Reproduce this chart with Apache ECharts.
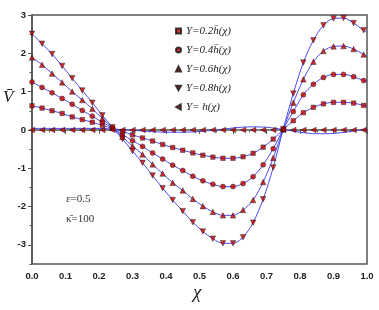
<!DOCTYPE html>
<html>
<head>
<meta charset="utf-8">
<script src="https://cdn.jsdelivr.net/npm/echarts@6/dist/echarts.min.js"></script>
<style>
  html, body { margin: 0; padding: 0; background: #fff; }
  #chart { width: 379px; height: 310px; }
</style>
</head>
<body>
<div id="chart"></div>
<script>
  // chi positions of the markers (every 0.03) plus the line end at 1.0
  let chi = [0, 0.03, 0.06, 0.09, 0.12, 0.15, 0.18, 0.21, 0.24, 0.27, 0.30, 0.33, 0.36, 0.39, 0.42, 0.45, 0.48,
    0.51, 0.54, 0.57, 0.60, 0.63, 0.66, 0.69, 0.72, 0.75, 0.78, 0.81, 0.84, 0.87, 0.90, 0.93, 0.96, 0.99, 1.0]

  let v02 = [0.63, 0.57, 0.50, 0.43, 0.34, 0.27, 0.20, 0.12, 0.04, -0.04, -0.13, -0.21, -0.29, -0.38, -0.46, -0.53, -0.60,
    -0.66, -0.71, -0.74, -0.74, -0.70, -0.61, -0.45, -0.24, 0.01, 0.24, 0.45, 0.59, 0.68, 0.72, 0.72, 0.70, 0.64, 0.63]
  let v04 = [1.25, 1.11, 0.97, 0.82, 0.67, 0.51, 0.36, 0.20, 0.05, -0.12, -0.28, -0.43, -0.60, -0.76, -0.92, -1.06, -1.21,
    -1.33, -1.42, -1.48, -1.48, -1.40, -1.22, -0.91, -0.49, 0.02, 0.48, 0.92, 1.19, 1.37, 1.45, 1.45, 1.39, 1.29, 1.27]
  let v06 = [1.89, 1.70, 1.47, 1.24, 1.00, 0.78, 0.55, 0.30, 0.06, -0.18, -0.42, -0.64, -0.90, -1.14, -1.38, -1.58, -1.80,
    -1.99, -2.14, -2.23, -2.23, -2.09, -1.83, -1.36, -0.73, 0.02, 0.71, 1.32, 1.78, 2.06, 2.18, 2.19, 2.11, 1.97, 1.93]
  let v08 = [2.51, 2.25, 1.98, 1.67, 1.35, 1.03, 0.71, 0.38, 0.07, -0.24, -0.55, -0.86, -1.19, -1.52, -1.83, -2.12, -2.41,
    -2.65, -2.84, -2.96, -2.96, -2.80, -2.42, -1.81, -0.98, 0.02, 0.95, 1.76, 2.34, 2.73, 2.91, 2.92, 2.79, 2.60, 2.55]
  // Y = h(chi): markers sit on zero, the line wiggles slightly
  let vHMarks = [0, 0, 0, 0, 0, 0, 0, 0, 0, 0, 0, 0, 0, 0, 0, 0, 0,
    0, 0, 0, 0, 0, 0, 0, 0, 0, 0, 0, 0, 0, 0, 0, 0, 0]
  let hLineChi = [0, 0.05, 0.1, 0.15, 0.2, 0.25, 0.3, 0.35, 0.4, 0.45, 0.5, 0.55, 0.6, 0.65, 0.7, 0.75, 0.8, 0.85, 0.9, 0.95, 1.0]
  let hLine = [0.04, 0.04, 0.04, 0.04, 0.04, 0.02, -0.01, -0.04, -0.06, -0.06, -0.04, 0.0, 0.05, 0.08, 0.07, 0.01, -0.06, -0.10, -0.09, -0.04, 0.03]

  let yTicks = [-3, -2, -1, 0, 1, 2, 3]
  let names = ['Y=0.2h\u0304(\u03c7)', 'Y=0.4h\u0304(\u03c7)', 'Y=0.6h(\u03c7)', 'Y=0.8h(\u03c7)', 'Y= h(\u03c7)']

  let lineColor = '#4a4af0'
  let markColor = '#c00000'
  let frame = '#555'
  let triDown = 'path://M0,0L10,0L5,9Z'
  let triLeft = 'path://M9,0L9,10L0,5Z'

  function pairs(xs, ys, n) {
    let out = []
    for (let i = 0; i < n; i++) out.push([xs[i], ys[i]])
    return out
  }

  function curve(ys, xs) {
    return {
      type: 'line', data: pairs(xs, ys, ys.length), smooth: 0.3, showSymbol: false, silent: true,
      lineStyle: { color: lineColor, width: 1 }, z: 2
    }
  }

  function marks(name, ys, symbol, size) {
    return {
      name: name, type: 'scatter', data: pairs(chi, ys, 34), symbol: symbol, symbolSize: size,
      itemStyle: { color: markColor, borderColor: '#111', borderWidth: 0.5 }, z: 3
    }
  }

  let myChart = echarts.init(document.getElementById('chart'))
  let option = {
    animation: false,
    grid: { left: 32, right: 12, top: 15, bottom: 46, show: true, borderColor: frame, borderWidth: 1.5 },
    legend: {
      data: names, orient: 'vertical', left: 170, top: 20, itemWidth: 5, itemHeight: 5, itemGap: 7,
      textStyle: { fontFamily: 'Liberation Serif', fontStyle: 'italic', fontSize: 11, color: '#222', lineHeight: 12 }
    },
    xAxis: {
      type: 'value', min: 0, max: 1, interval: 0.1,
      axisLine: { lineStyle: { color: frame, width: 1.5 } },
      axisTick: { inside: false, length: 4, lineStyle: { color: frame } },
      minorTick: { show: true, splitNumber: 2, length: 2.5, lineStyle: { color: frame } },
      splitLine: { show: false },
      axisLabel: {
        formatter: v => v.toFixed(1), color: '#222', fontFamily: 'Liberation Sans', fontWeight: 'bold', fontSize: 9.5, margin: 7
      }
    },
    yAxis: [{
      type: 'value', min: -3.5, max: 3,
      axisLine: { show: true, lineStyle: { color: frame, width: 1.5 } },
      axisTick: { show: true, length: 4, customValues: yTicks, lineStyle: { color: frame } },
      axisLabel: {
        customValues: yTicks, color: '#222', fontFamily: 'Liberation Sans', fontWeight: 'bold', fontSize: 9.5, margin: 6
      },
      splitLine: { show: false }
    }, {
      type: 'value', min: -3.5, max: 3, interval: 0.5, position: 'left',
      axisLine: { show: false }, axisLabel: { show: false }, splitLine: { show: false },
      axisTick: { show: true, length: 2.5, lineStyle: { color: frame } }
    }],
    graphic: [
      { type: 'text', left: 3, top: 89, style: { text: 'V\u0304', font: 'italic 17px "Liberation Serif"', fill: '#222' } },
      { type: 'text', left: 193, top: 283, style: { text: '\u03c7', font: 'italic 19px "Liberation Serif"', fill: '#222' } },
      { type: 'text', left: 66, top: 194, style: { text: '\u03b5=0.5', font: '11px "Liberation Serif"', fill: '#333' } },
      { type: 'text', left: 66, top: 214, style: { text: '\u03ba\u0304=100', font: '11px "Liberation Serif"', fill: '#333' } }
    ],
    series: [
      curve(v02, chi), curve(v04, chi), curve(v06, chi), curve(v08, chi), curve(hLine, hLineChi),
      marks(names[0], v02, 'rect', 4.5),
      marks(names[1], v04, 'circle', 5),
      marks(names[2], v06, 'triangle', 5.5),
      marks(names[3], v08, triDown, 5.5),
      marks(names[4], vHMarks, triLeft, 5.5)
    ]
  }
  myChart.setOption(option)
</script>
</body>
</html>
